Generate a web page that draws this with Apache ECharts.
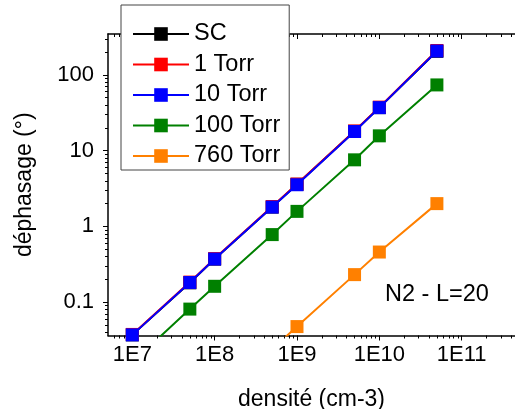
<!DOCTYPE html>
<html>
<head>
<meta charset="utf-8">
<script src="https://cdn.jsdelivr.net/npm/echarts@6/dist/echarts.min.js"></script>
<style>html,body{margin:0;padding:0;background:#fff}#c{width:515px;height:409px}</style>
</head>
<body>
<div id="c"></div>
<script>
// ---- data ----
const densite = [1e7, 5e7, 1e8, 5e8, 1e9, 5e9, 1e10, 5e10];
const sc      = [0.037, 0.18, 0.37, 1.8, 3.6, 18, 37, 205];
const torr1   = [0.0375, 0.184, 0.376, 1.83, 3.62, 18.2, 37.6, 210];
const torr10  = [0.037, 0.182, 0.371, 1.80, 3.55, 17.9, 37, 207];
const torr100 = [0.016, 0.081, 0.162, 0.78, 1.58, 7.57, 15.7, 73.8];
const torr760 = [null, null, null, 0.024, 0.0476, 0.231, 0.459, 2.0];
const seriesNames = ['SC', '1 Torr', '10 Torr', '100 Torr', '760 Torr'];
const xMajorTicks = [1e7, 1e8, 1e9, 1e10, 1e11];
const xTickLabels = ['1E7', '1E8', '1E9', '1E10', '1E11'];
const yMajorTicks = [0.1, 1, 10, 100];
const yTickLabels = ['0.1', '1', '10', '100'];
const xMin = 5.07e6, xMax = 4.44e11, yMin = 0.0363, yMax = 347;

function minorTicks(lo, hi, d0, d1) {
  const out = [];
  for (let d = d0; d <= d1; d++) for (let k = 2; k <= 9; k++) {
    const v = k * Math.pow(10, d);
    if (v > lo && v < hi) out.push(v);
  }
  return out;
}
const xMinorTicks = minorTicks(xMin, xMax, 6, 11);
const yMinorTicks = minorTicks(yMin, yMax, -2, 2);

function pairs(ys) {
  const out = [];
  densite.forEach((x, i) => { if (ys[i] != null) out.push([x, ys[i]]); });
  return out;
}
const colors = ['#000000', '#ff0000', '#0000ff', '#008000', '#ff8000'];
const allData = [sc, torr1, torr10, torr100, torr760];

const FONT = 'Liberation Sans, Arial, sans-serif';
const chart = echarts.init(document.getElementById('c'));

function xAxisDef(pos, major) {
  return {
    type: 'log', position: pos, min: xMin, max: xMax, gridIndex: 0,
    axisLine: { show: major, lineStyle: { color: '#000', width: 1.5 } },
    splitLine: { show: false }, minorTick: { show: false }, minorSplitLine: { show: false },
    axisTick: { show: true, inside: pos === 'top', length: major ? 5 : 3,
      customValues: major ? xMajorTicks : xMinorTicks, lineStyle: { color: '#000', width: 1 } },
    axisLabel: { show: major && pos === 'bottom', customValues: xMajorTicks,
      formatter: (v) => xTickLabels[xMajorTicks.findIndex(t => Math.abs(Math.log10(t) - Math.log10(v)) < 1e-6)] || '',
      fontSize: 22, color: '#000', fontFamily: FONT, margin: 8 },
    name: (major && pos === 'bottom') ? 'densité (cm-3)' : '',
    nameLocation: 'middle', nameGap: 53,
    nameTextStyle: { fontSize: 23, color: '#000', fontFamily: FONT }
  };
}
function yAxisDef(major) {
  return {
    type: 'log', position: 'left', min: yMin, max: yMax, gridIndex: 0,
    axisLine: { show: major, lineStyle: { color: '#000', width: 1.5 } },
    splitLine: { show: false }, minorTick: { show: false }, minorSplitLine: { show: false },
    axisTick: { show: true, inside: false, length: major ? 5 : 3,
      customValues: major ? yMajorTicks : yMinorTicks, lineStyle: { color: '#000', width: 1 } },
    axisLabel: { show: major, customValues: yMajorTicks,
      formatter: (v) => yTickLabels[yMajorTicks.findIndex(t => Math.abs(Math.log10(t) - Math.log10(v)) < 1e-6)] || '',
      fontSize: 22, color: '#000', fontFamily: FONT, margin: 14 },
    name: major ? 'déphasage (°)' : '',
    nameLocation: 'middle', nameGap: 72, nameRotate: 90,
    nameTextStyle: { fontSize: 23, color: '#000', fontFamily: FONT }
  };
}

chart.setOption({
  animation: false,
  grid: { left: 108, top: 34, right: 0, bottom: 73.5, containLabel: false, outerBoundsMode: 'none' },
  xAxis: [xAxisDef('bottom', true), xAxisDef('bottom', false), xAxisDef('top', true), xAxisDef('top', false)],
  yAxis: [yAxisDef(true), yAxisDef(false)],
  legend: {
    orient: 'vertical', left: 121, top: 5,
    padding: [16, 9, 1, 11], itemGap: 4.5,
    itemWidth: 56, itemHeight: 17,
    backgroundColor: '#fff', borderColor: '#444', borderWidth: 1, z: 10,
    textStyle: { fontSize: 23.5, color: '#000', fontFamily: FONT, lineHeight: 26 },
    data: seriesNames
  },
  graphic: [{
    type: 'text', left: 385, top: 283, z: 5,
    style: { text: 'N2 - L=20', fontSize: 23.5, fill: '#000', fontFamily: FONT }
  }],
  series: seriesNames.map((n, i) => ({
    name: n, type: 'line', xAxisIndex: 0, yAxisIndex: 0,
    data: pairs(allData[i]),
    symbol: 'rect', symbolSize: 13, showAllSymbol: true,
    clip: true,
    lineStyle: { color: colors[i], width: 2 },
    itemStyle: { color: colors[i] },
    z: 2 + i
  }))
});
</script>
</body>
</html>
